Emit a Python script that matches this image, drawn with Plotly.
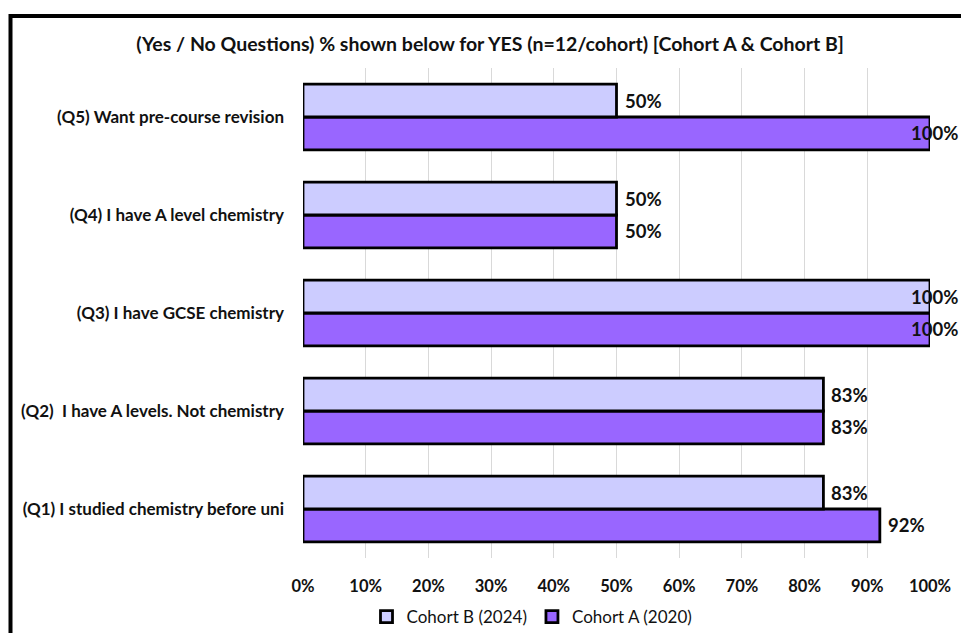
import plotly.graph_objects as go

categories = [
    "(Q1) I studied chemistry before uni",
    "(Q2)  I have A levels. Not chemistry",
    "(Q3) I have GCSE chemistry",
    "(Q4) I have A level chemistry",
    "(Q5) Want pre-course revision",
]
cohort_a = [92, 83, 100, 50, 100]   # Cohort A (2020)
cohort_b = [83, 83, 100, 50, 50]    # Cohort B (2024)
x_ticks = [0, 10, 20, 30, 40, 50, 60, 70, 80, 90, 100]
x_tick_labels = [f"{t}%" for t in x_ticks]

W, H = 961, 633
ML, MR, MT, MB = 303, 31, 68, 75
PW, PH = W - ML - MR, H - MT - MB

FONT = "Lato"
TXT = "#111111"
COL_A = "#9966ff"
COL_B = "#ccccff"

fig = go.Figure()
fig.add_trace(go.Bar(
    y=categories, x=cohort_a, orientation="h", name="Cohort A (2020)",
    marker=dict(color=COL_A, line=dict(color="black", width=2.8)),
))
fig.add_trace(go.Bar(
    y=categories, x=cohort_b, orientation="h", name="Cohort B (2024)",
    marker=dict(color=COL_B, line=dict(color="black", width=2.8)),
))

# data labels (outside end, kept inside the chart area like the original)
band = PH / len(categories)
off = band * (1 - 0.33) / 4
annotations = []
lab_font = dict(family=FONT, size=18.5, color=TXT, weight="bold")
for vals, ys in ((cohort_a, -off), (cohort_b, off)):
    for cat, v in zip(categories, vals):
        lab = f"{v}%"
        if v >= 100:
            annotations.append(dict(x=1, xref="paper", y=cat, yref="y", text=lab,
                                    showarrow=False, xanchor="right", xshift=30, yshift=ys,
                                    font=lab_font))
        else:
            annotations.append(dict(x=v, xref="x", y=cat, yref="y", text=lab,
                                    showarrow=False, xanchor="left", xshift=6, yshift=ys,
                                    font=lab_font))

fig.update_layout(
    width=W, height=H,
    margin=dict(l=ML, r=MR, t=MT, b=MB, autoexpand=False),
    paper_bgcolor="white", plot_bgcolor="white",
    barmode="group", bargap=0.33, bargroupgap=0,
    title=dict(text="(Yes / No Questions) % shown below for YES (n=12/cohort) [Cohort A & Cohort B]",
               x=0.51, xref="container", xanchor="center",
               y=1 - 44 / H, yref="container", yanchor="middle",
               font=dict(family=FONT, size=19.5, color=TXT, weight="bold")),
    xaxis=dict(range=[0, 100], tickvals=x_ticks, ticktext=x_tick_labels,
               showgrid=True, gridcolor="#d9d9d9", gridwidth=1,
               zeroline=False, showline=False, ticks="",
               ticklabelstandoff=16, automargin=False,
               tickfont=dict(family=FONT, size=16.5, color=TXT, weight="bold")),
    yaxis=dict(type="category", categoryorder="array", categoryarray=categories,
               showgrid=False, zeroline=False, showline=False, ticks="",
               ticklabelstandoff=18, automargin=False,
               tickfont=dict(family=FONT, size=17, color=TXT, weight="bold")),
    legend=dict(orientation="h", x=(532 - ML) / PW, xanchor="center",
                y=(PH + MT - 617) / PH, yanchor="middle",
                traceorder="reversed", itemwidth=30,
                font=dict(family=FONT, size=17, color=TXT)),
    annotations=annotations,
    shapes=[dict(type="rect", xref="paper", yref="paper",
                 x0=(10.5 - ML) / PW, x1=(990 - ML) / PW,
                 y0=(MT + PH - 660) / PH, y1=(MT + PH - 16) / PH,
                 line=dict(color="black", width=4), layer="below")],
)

fig.write_html("out.html")
